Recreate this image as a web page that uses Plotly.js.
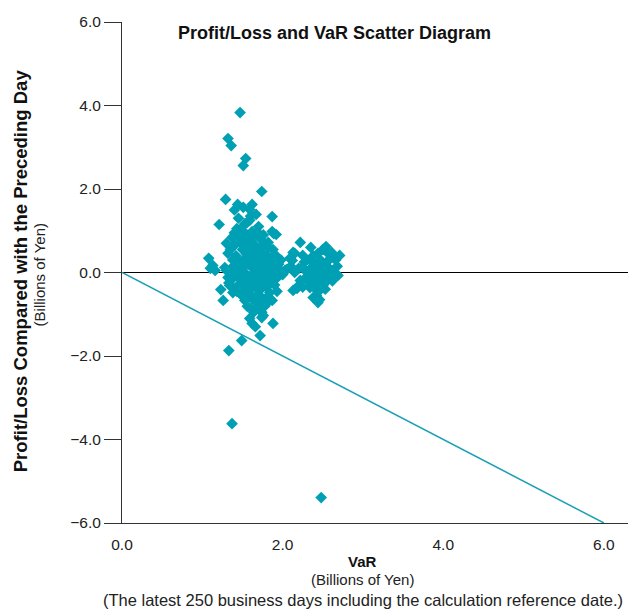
<!DOCTYPE html>
<html>
<head>
<meta charset="utf-8">
<script src="https://cdn.plot.ly/plotly-3.0.1.min.js"></script>
<style>html,body{margin:0;padding:0;background:#fff;}#chart{width:628px;height:609px;}</style>
</head>
<body>
<div id="chart"></div>
<script>
// VaR (billions of yen)
const varValues = [
 1.47,1.32,1.36,1.54,1.51,1.74,1.29,1.44,1.51,1.62,1.59,1.67,1.87,1.21,1.43,1.53,1.59,1.37,1.49,1.62,
 1.69,1.87,1.92,1.74,1.41,1.47,1.57,1.53,1.72,1.82,1.66,1.32,1.08,1.10,1.16,1.13,1.28,1.32,1.23,1.26,
 1.68,1.62,1.76,1.84,1.43,1.51,1.68,1.76,1.62,1.49,1.38,1.34,1.44,1.56,1.68,1.78,1.84,1.88,1.90,1.57,
 1.53,1.72,1.82,1.69,1.59,1.62,1.76,1.88,1.72,1.49,1.33,1.37,2.48,1.56,1.68,1.81,1.74,1.38,2.13,2.15,
 1.69,2.22,2.54,2.71,2.61,2.44,2.13,2.09,2.25,2.03,2.38,2.50,2.63,2.25,2.34,2.22,2.46,2.56,2.69,2.18,
 2.34,2.50,2.38,2.44,1.89,1.87,1.88,1.87,2.37,2.12,2.51,2.28,2.40,2.56,2.20,2.40,2.63,2.05,1.74,
 1.50,1.55,1.60,1.65,1.70,1.75,1.80,1.58,1.62,1.66,1.70,1.74,1.78,1.82,1.86,1.55,1.50,1.46,1.52,1.48,
 1.54,1.60,1.64,1.68,1.72,1.76,1.80,1.84,1.58,1.63,1.66,1.70,1.75,1.78,1.60,1.64,1.52,1.45,1.42,1.44,
 1.40,1.38,1.36,1.57,1.63,1.68,1.72,1.77,1.82,1.88,1.92,1.95,1.92,1.90,1.96,1.65,1.58,1.53,1.48,1.46,
 1.70,1.76,1.56,1.60,1.45,1.40,1.35,1.30,1.33,1.30,1.67,1.61,1.73,1.69,1.57,1.62,1.79,1.83,1.87,1.85,
 1.70,1.74,1.55,1.49,1.66,1.80,1.93,1.98,2.00,1.40,1.51,1.43,
 2.30,2.35,2.42,2.47,2.28,2.32,2.45,2.38,2.55,2.58,2.52,2.48,2.44,2.40,2.27,2.36,2.60,2.66,2.20,2.15,
 2.10,2.25,2.53,2.42,2.62,2.57,2.50,2.35,2.68,2.46
];
// Profit/Loss compared with the preceding day (billions of yen)
const profitLoss = [
 3.83,3.21,3.04,2.73,2.56,1.94,1.75,1.63,1.56,1.63,1.51,1.39,1.34,1.15,1.05,1.17,1.25,0.84,0.91,0.98,
 0.96,0.98,0.91,0.77,0.67,0.72,0.69,0.89,0.60,0.60,0.48,0.46,0.34,0.10,0.05,0.17,0.12,-0.12,-0.41,-0.67,
 0.41,0.29,0.22,0.29,-0.07,0.12,0.05,-0.12,-0.24,-0.19,-0.14,-0.31,-0.36,-0.07,-0.26,-0.31,-0.24,0.10,0.00,-0.43,
 -0.67,-0.67,-0.67,-0.84,-1.10,-1.22,-1.03,-1.22,-1.51,-1.63,-1.87,-3.62,-5.39,-0.81,-0.86,-0.72,-1.08,-0.48,-0.43,0.46,
 0.48,0.72,0.62,0.41,0.48,0.46,0.48,0.34,0.41,0.05,0.22,0.17,0.05,0.12,-0.02,-0.19,-0.12,-0.19,-0.07,-0.38,
 -0.36,-0.31,-0.60,-0.72,0.93,0.36,-0.07,-0.67,0.26,0.29,0.05,-0.14,-0.24,-0.07,-0.31,-0.38,0.00,0.07,-0.38,
 0.55,0.45,0.38,0.30,0.25,0.35,0.42,0.20,0.12,0.02,-0.05,0.08,0.15,0.05,-0.10,-0.05,0.05,0.25,0.32,-0.15,
 -0.22,-0.30,-0.18,-0.40,-0.28,-0.20,-0.35,-0.48,-0.50,-0.58,-0.70,-0.55,-0.62,-0.80,-0.85,-0.95,-0.40,-0.30,0.40,0.15,
 -0.05,0.30,0.10,0.62,0.70,0.58,0.50,0.65,0.72,0.55,0.40,0.20,-0.15,-0.30,0.08,0.85,0.80,0.95,1.05,0.82,
 1.10,0.90,1.20,1.35,1.30,1.50,0.55,0.70,-0.25,0.05,0.40,0.48,-0.12,0.18,-0.12,-0.05,-0.05,0.25,0.30,-0.20,
 -0.85,-0.95,-0.65,-0.55,-1.30,-0.60,-0.45,0.30,-0.05,0.95,0.72,-0.45,
 0.30,0.10,0.05,0.30,0.05,-0.20,-0.45,0.40,0.25,0.10,-0.05,-0.22,0.15,-0.10,0.25,-0.30,0.35,0.30,0.10,0.00,
 0.15,-0.35,-0.40,-0.55,-0.20,0.45,0.55,0.60,0.15,-0.65
];
// Reference line (P/L = -VaR)
const refLineX = [0, 6];
const refLineY = [0, -6];
const yTicks = [-6, -4, -2, 0, 2, 4, 6];
const xTicks = [0, 2, 4, 6];

const teal = '#00a0b4';
const fontFam = '"Liberation Sans", Arial, Helvetica, sans-serif';

const traces = [
  {x: refLineX, y: refLineY, mode: 'lines', type: 'scatter',
   line: {color: '#1a9fb5', width: 1.5}, hoverinfo: 'skip', cliponaxis: false},
  {x: varValues, y: profitLoss, mode: 'markers', type: 'scatter',
   marker: {symbol: 'diamond', size: 9, color: teal, line: {width: 0}}}
];

const layout = {
  width: 628, height: 609,
  margin: {l: 122, r: 0, t: 22, b: 86},
  paper_bgcolor: '#fff', plot_bgcolor: '#fff',
  showlegend: false,
  font: {family: fontFam, size: 15, color: '#222'},
  xaxis: {
    range: [0, 6.3], tickvals: xTicks, tickformat: '.1f',
    showgrid: false, zeroline: false,
    showline: true, linecolor: '#333', linewidth: 1,
    ticks: 'outside', ticklen: 7, tickcolor: 'rgba(0,0,0,0)',
    tickfont: {size: 15.5, color: '#222'}
  },
  yaxis: {
    range: [-6, 6], tickvals: yTicks, tickformat: '.1f',
    showgrid: false,
    zeroline: true, zerolinecolor: '#000', zerolinewidth: 1,
    showline: true, linecolor: '#333', linewidth: 1,
    ticks: 'outside', ticklen: 17, tickcolor: '#333', tickwidth: 1,
    tickfont: {size: 15.5, color: '#222'}
  },
  annotations: [
    {text: '<b>Profit/Loss and VaR Scatter Diagram</b>', xref: 'paper', yref: 'paper',
     x: (176 - 122) / 506, y: 1 - (33 - 22) / 501, xanchor: 'left', yanchor: 'middle',
     showarrow: false, font: {size: 18, color: '#111'}},
    {text: '<b>Profit/Loss Compared with the Preceding Day</b>', xref: 'paper', yref: 'y',
     x: -(122 - 20) / 506, y: 0.03, xanchor: 'center', yanchor: 'middle', textangle: -90,
     showarrow: false, font: {size: 18.5, color: '#111'}},
    {text: '(Billions of Yen)', xref: 'paper', yref: 'y',
     x: -(122 - 39) / 506, y: -0.07, xanchor: 'center', yanchor: 'middle', textangle: -90,
     showarrow: false, font: {size: 15, color: '#222'}},
    {text: '<b>VaR</b>', xref: 'x', yref: 'paper',
     x: 3.0, y: -(561 - 523) / 501, xanchor: 'center', yanchor: 'middle',
     showarrow: false, font: {size: 15, color: '#111'}},
    {text: '(Billions of Yen)', xref: 'x', yref: 'paper',
     x: 3.0, y: -(579 - 523) / 501, xanchor: 'center', yanchor: 'middle',
     showarrow: false, font: {size: 15, color: '#222'}},
    {text: '(The latest 250 business days including the calculation reference date.)', xref: 'x', yref: 'paper',
     x: 3.0, y: -(600 - 523) / 501, xanchor: 'center', yanchor: 'middle',
     showarrow: false, font: {size: 16.5, color: '#222'}}
  ]
};

Plotly.newPlot('chart', traces, layout, {displayModeBar: false, staticPlot: true});
</script>
</body>
</html>
